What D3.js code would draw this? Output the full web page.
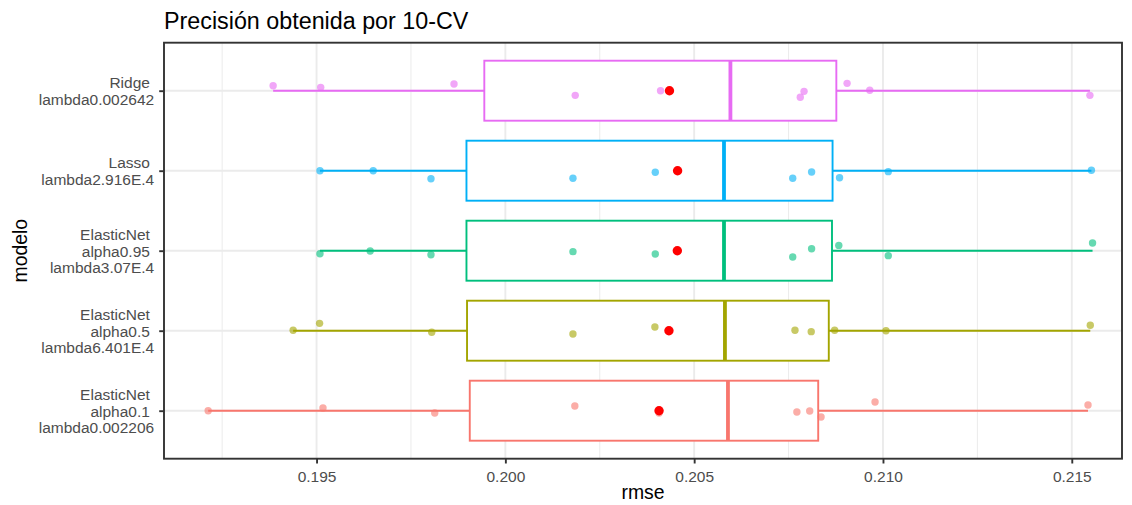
<!DOCTYPE html>
<html>
<head>
<meta charset="utf-8">
<script src="https://cdn.jsdelivr.net/npm/d3@7"></script>
<style>
  html, body { margin: 0; padding: 0; background: #ffffff; }
  svg { display: block; font-family: "Liberation Sans", Arial, sans-serif; }
  .ylab text { white-space: pre; }
</style>
</head>
<body>
<svg id="chart" width="1132" height="505"></svg>
<script>
// Models, top to bottom on the y axis
const modelos = ["Ridge", "Lasso", "EN0.95", "EN0.5", "EN0.1"];
const etiquetas = [
  ["Ridge ", "lambda0.002642"],
  ["Lasso ", "lambda2.916E.4"],
  ["ElasticNet ", "alpha0.95 ", "lambda3.07E.4"],
  ["ElasticNet ", "alpha0.5 ", "lambda6.401E.4"],
  ["ElasticNet ", "alpha0.1 ", "lambda0.002206"]
];
const colores = ["#E76BF3", "#00B0F6", "#00BF7D", "#A3A500", "#F8766D"];

// RMSE of each of the 10 folds
const rmseRidge = [0.19385, 0.19511, 0.19864, 0.20185, 0.20411, 0.20781, 0.20791, 0.20905, 0.20965, 0.21548];
const rmseLasso = [0.19509, 0.19650, 0.19803, 0.20179, 0.20397, 0.20761, 0.20811, 0.20885, 0.21014, 0.21552];
const rmseEN095 = [0.19509, 0.19642, 0.19803, 0.20179, 0.20397, 0.20761, 0.20811, 0.20883, 0.21014, 0.21555];
const rmseEN05  = [0.19438, 0.19508, 0.19805, 0.20179, 0.20396, 0.20767, 0.20810, 0.20872, 0.21008, 0.21549];
const rmseEN01  = [0.19213, 0.19517, 0.19813, 0.20184, 0.20407, 0.20772, 0.20806, 0.20836, 0.20979, 0.21543];

// vertical jitter of each fold point, in category units
const jitRidge = [-0.062, -0.042, -0.084, 0.058, 0.000, 0.082, 0.008, -0.092, -0.005, 0.058];
const jitLasso = [0.000, 0.000, 0.100, 0.095, 0.020, 0.095, 0.016, 0.088, 0.012, -0.005];
const jitEN095 = [0.038, 0.004, 0.050, 0.012, 0.041, 0.079, -0.025, -0.066, 0.062, -0.096];
const jitEN05  = [-0.005, -0.092, 0.020, 0.041, -0.046, -0.005, 0.012, -0.005, 0.000, -0.068];
const jitEN01  = [0.000, -0.034, 0.029, -0.059, 0.029, 0.016, 0.004, 0.079, -0.109, -0.071];

const xTicks = [0.195, 0.200, 0.205, 0.210, 0.215];
const xMinor = [0.1925, 0.1975, 0.2025, 0.2075, 0.2125];
const xDomain = [0.19096, 0.21633];

const series = [rmseRidge, rmseLasso, rmseEN095, rmseEN05, rmseEN01];
const jitters = [jitRidge, jitLasso, jitEN095, jitEN05, jitEN01];

const panel = { left: 164, right: 1122, top: 42.7, bottom: 458.7 };
const svg = d3.select("#chart");

const x = d3.scaleLinear().domain(xDomain).range([panel.left, panel.right]);
const y = d3.scalePoint().domain(modelos).range([panel.top, panel.bottom]).padding(0.6);
const step = y.step();

const gridCol = "#EBEBEB";
const g = svg.append("g");

// grid
g.selectAll(".minor").data(xMinor).join("line")
  .attr("x1", d => x(d)).attr("x2", d => x(d))
  .attr("y1", panel.top).attr("y2", panel.bottom)
  .attr("stroke", gridCol).attr("stroke-width", 1);
g.selectAll(".majorx").data(xTicks).join("line")
  .attr("x1", d => x(d)).attr("x2", d => x(d))
  .attr("y1", panel.top).attr("y2", panel.bottom)
  .attr("stroke", gridCol).attr("stroke-width", 1.9);
g.selectAll(".majory").data(modelos).join("line")
  .attr("x1", panel.left).attr("x2", panel.right)
  .attr("y1", d => y(d)).attr("y2", d => y(d))
  .attr("stroke", gridCol).attr("stroke-width", 1.9);

// boxplot statistics (R type-7 quantiles, whiskers at 1.5 IQR)
function stats(vals) {
  const s = vals.slice().sort(d3.ascending);
  const q1 = d3.quantileSorted(s, 0.25), med = d3.quantileSorted(s, 0.5), q3 = d3.quantileSorted(s, 0.75);
  const iqr = q3 - q1;
  const lo = d3.min(s.filter(v => v >= q1 - 1.5 * iqr));
  const hi = d3.max(s.filter(v => v <= q3 + 1.5 * iqr));
  return { q1, med, q3, lo, hi, mean: d3.mean(s) };
}

const boxH = 0.75 * step;
modelos.forEach((m, i) => {
  const st = stats(series[i]);
  const cy = y(m), col = colores[i];
  const bg = g.append("g");
  bg.append("line").attr("x1", x(st.lo)).attr("x2", x(st.q1)).attr("y1", cy).attr("y2", cy)
    .attr("stroke", col).attr("stroke-width", 1.9);
  bg.append("line").attr("x1", x(st.q3)).attr("x2", x(st.hi)).attr("y1", cy).attr("y2", cy)
    .attr("stroke", col).attr("stroke-width", 1.9);
  bg.append("rect").attr("x", x(st.q1)).attr("y", cy - boxH / 2)
    .attr("width", x(st.q3) - x(st.q1)).attr("height", boxH)
    .attr("fill", "#ffffff").attr("stroke", col).attr("stroke-width", 1.9);
  bg.append("line").attr("x1", x(st.med)).attr("x2", x(st.med))
    .attr("y1", cy - boxH / 2).attr("y2", cy + boxH / 2)
    .attr("stroke", col).attr("stroke-width", 3.8);
});

// fold points
modelos.forEach((m, i) => {
  g.append("g").selectAll("circle").data(series[i]).join("circle")
    .attr("cx", d => x(d))
    .attr("cy", (d, j) => y(m) + jitters[i][j] * step)
    .attr("r", 3.7)
    .attr("fill", colores[i]).attr("fill-opacity", 0.6);
});

// mean per model
modelos.forEach((m, i) => {
  g.append("circle").attr("cx", x(d3.mean(series[i]))).attr("cy", y(m))
    .attr("r", 4.7).attr("fill", "#FF0000");
});

// panel border
svg.append("rect").attr("x", panel.left).attr("y", panel.top)
  .attr("width", panel.right - panel.left).attr("height", panel.bottom - panel.top)
  .attr("fill", "none").attr("stroke", "#333333").attr("stroke-width", 1.9);

// x axis
const xa = svg.append("g").attr("transform", `translate(0,${panel.bottom})`)
  .call(d3.axisBottom(x).tickValues(xTicks).tickFormat(d3.format(".3f")).tickSize(4.8).tickPadding(5));
xa.select(".domain").remove();
xa.selectAll(".tick line").attr("stroke", "#333333").attr("stroke-width", 1.9);
xa.selectAll(".tick text").attr("fill", "#4D4D4D").attr("font-size", "15.5px")
  .attr("font-family", "Liberation Sans, Arial, sans-serif").attr("dy", null).attr("y", 23);

// y axis with multi-line labels
const ya = svg.append("g").attr("class", "ylab").attr("transform", `translate(${panel.left},0)`)
  .call(d3.axisLeft(y).tickSize(4.8).tickPadding(5));
ya.select(".domain").remove();
ya.selectAll(".tick line").attr("stroke", "#333333").attr("stroke-width", 1.9);
const lh = 16.7;
ya.selectAll(".tick text").each(function (d, i) {
  const lines = etiquetas[modelos.indexOf(d)];
  const t = d3.select(this).text(null).attr("dy", null).attr("y", null)
    .attr("fill", "#4D4D4D").attr("font-size", "15.5px")
    .attr("font-family", "Liberation Sans, Arial, sans-serif");
  const n = lines.length;
  lines.forEach((ln, k) => {
    t.append("tspan").attr("x", -9.8)
      .attr("y", (k - (n - 1) / 2) * lh + 5.5)
      .text(ln);
  });
});

// titles
svg.append("text").attr("x", 164).attr("y", 29)
  .attr("font-size", "23.3px").attr("fill", "#000000")
  .text("Precisión obtenida por 10-CV");
svg.append("text").attr("x", (panel.left + panel.right) / 2).attr("y", 499)
  .attr("text-anchor", "middle").attr("font-size", "19.4px").attr("fill", "#000000")
  .text("rmse");
svg.append("text").attr("transform", `translate(27,${(panel.top + panel.bottom) / 2}) rotate(-90)`)
  .attr("text-anchor", "middle").attr("font-size", "19.4px").attr("fill", "#000000")
  .text("modelo");
</script>
</body>
</html>
